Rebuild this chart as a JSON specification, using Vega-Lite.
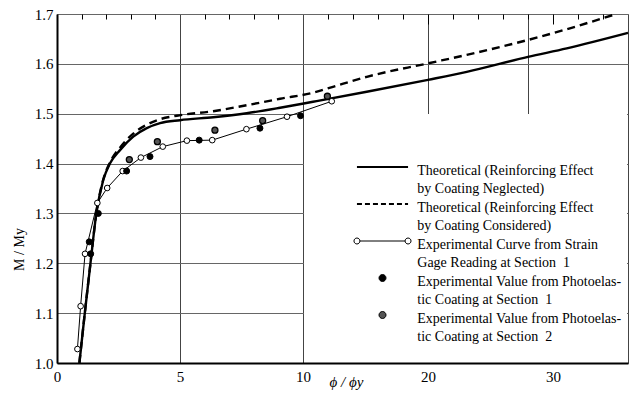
{
  "$schema": "https://vega.github.io/schema/vega-lite/v6.json",
  "width": 571,
  "height": 349,
  "autosize": {"type": "none"},
  "padding": {"left": 57, "top": 14, "right": 2, "bottom": 31},
  "background": "white",
  "config": {"view": {"stroke": "#444", "strokeWidth": 1}, "font": "Liberation Serif"},
  "datasets": {
    "neglected": [
      {"series": "neglected", "phi": 0.91, "m": 1.0},
      {"series": "neglected", "phi": 1.13, "m": 1.1},
      {"series": "neglected", "phi": 1.36, "m": 1.2},
      {"series": "neglected", "phi": 1.6, "m": 1.3},
      {"series": "neglected", "phi": 1.88, "m": 1.367},
      {"series": "neglected", "phi": 2.15, "m": 1.4},
      {"series": "neglected", "phi": 2.56, "m": 1.427},
      {"series": "neglected", "phi": 3.1, "m": 1.454},
      {"series": "neglected", "phi": 3.65, "m": 1.471},
      {"series": "neglected", "phi": 4.19, "m": 1.481},
      {"series": "neglected", "phi": 5.0, "m": 1.487},
      {"series": "neglected", "phi": 6.35, "m": 1.493},
      {"series": "neglected", "phi": 7.71, "m": 1.501},
      {"series": "neglected", "phi": 9.07, "m": 1.512},
      {"series": "neglected", "phi": 10.8, "m": 1.524},
      {"series": "neglected", "phi": 15.1, "m": 1.544},
      {"series": "neglected", "phi": 20, "m": 1.568},
      {"series": "neglected", "phi": 23.1, "m": 1.584},
      {"series": "neglected", "phi": 28, "m": 1.614},
      {"series": "neglected", "phi": 31.1, "m": 1.631},
      {"series": "neglected", "phi": 36, "m": 1.662}
    ],
    "considered": [
      {"series": "considered", "phi": 0.91, "m": 1.0},
      {"series": "considered", "phi": 1.13, "m": 1.1},
      {"series": "considered", "phi": 1.36, "m": 1.2},
      {"series": "considered", "phi": 1.6, "m": 1.3},
      {"series": "considered", "phi": 1.88, "m": 1.368},
      {"series": "considered", "phi": 2.15, "m": 1.402},
      {"series": "considered", "phi": 2.56, "m": 1.432},
      {"series": "considered", "phi": 3.1, "m": 1.46},
      {"series": "considered", "phi": 3.65, "m": 1.478},
      {"series": "considered", "phi": 4.19, "m": 1.489},
      {"series": "considered", "phi": 4.87, "m": 1.496},
      {"series": "considered", "phi": 6.35, "m": 1.505},
      {"series": "considered", "phi": 7.71, "m": 1.517},
      {"series": "considered", "phi": 9.07, "m": 1.53},
      {"series": "considered", "phi": 10.8, "m": 1.542},
      {"series": "considered", "phi": 12.4, "m": 1.554},
      {"series": "considered", "phi": 15.1, "m": 1.574},
      {"series": "considered", "phi": 20, "m": 1.601},
      {"series": "considered", "phi": 23.1, "m": 1.618},
      {"series": "considered", "phi": 28, "m": 1.648},
      {"series": "considered", "phi": 30.9, "m": 1.668},
      {"series": "considered", "phi": 34.8, "m": 1.698}
    ],
    "curve": [
      {"series": "curve", "phi": 0.83, "m": 1.028},
      {"series": "curve", "phi": 0.96, "m": 1.114},
      {"series": "curve", "phi": 1.14, "m": 1.219},
      {"series": "curve", "phi": 1.64, "m": 1.321},
      {"series": "curve", "phi": 2.04, "m": 1.351},
      {"series": "curve", "phi": 2.67, "m": 1.385},
      {"series": "curve", "phi": 3.41, "m": 1.412},
      {"series": "curve", "phi": 4.3, "m": 1.434},
      {"series": "curve", "phi": 5.28, "m": 1.446},
      {"series": "curve", "phi": 6.31, "m": 1.447},
      {"series": "curve", "phi": 7.7, "m": 1.469},
      {"series": "curve", "phi": 9.35, "m": 1.494},
      {"series": "curve", "phi": 12.3, "m": 1.525}
    ],
    "sec1": [
      {"series": "sec1", "phi": 1.31, "m": 1.243},
      {"series": "sec1", "phi": 1.37, "m": 1.219},
      {"series": "sec1", "phi": 1.68, "m": 1.3},
      {"series": "sec1", "phi": 2.83, "m": 1.385},
      {"series": "sec1", "phi": 3.78, "m": 1.414},
      {"series": "sec1", "phi": 5.78, "m": 1.447},
      {"series": "sec1", "phi": 8.25, "m": 1.471},
      {"series": "sec1", "phi": 9.9, "m": 1.496}
    ],
    "sec2": [
      {"series": "sec2", "phi": 2.94, "m": 1.408},
      {"series": "sec2", "phi": 4.08, "m": 1.444},
      {"series": "sec2", "phi": 6.42, "m": 1.467},
      {"series": "sec2", "phi": 8.36, "m": 1.486},
      {"series": "sec2", "phi": 11.95, "m": 1.535}
    ]
  },
  "layer": [
    {
      "data": {"name": "neglected"},
      "mark": {"type": "line", "interpolate": "monotone", "strokeWidth": 2.4},
      "encoding": {
        "x": {
          "field": "phi", "type": "quantitative",
          "scale": {"domain": [0, 10, 36], "range": [0, 246, 571], "nice": false, "zero": false},
          "axis": {
            "values": [0, 5, 10, 20, 30], "ticks": false, "grid": false, "zindex": 1,
            "domainColor": "black", "domainWidth": 2,
            "labelFont": "Liberation Serif", "labelFontSize": 15, "labelColor": "black", "labelPadding": 6,
            "labelFlush": false, "labelOverlap": false,
            "title": "ϕ / ϕy", "titleFont": "Liberation Serif", "titleFontStyle": "italic", "titleFontWeight": "normal",
            "titleFontSize": 15, "titleColor": "black", "titleX": 289, "titleY": 23, "titleBaseline": "alphabetic", "titleAlign": "center"
          }
        },
        "y": {
          "field": "m", "type": "quantitative",
          "scale": {"domain": [1.0, 1.7], "nice": false, "zero": false},
          "axis": {
            "values": [1.0, 1.1, 1.2, 1.3, 1.4, 1.5, 1.6, 1.7], "format": ".1f", "ticks": false,
            "grid": true, "gridColor": "#666", "gridWidth": 1,
            "domainColor": "black", "domainWidth": 2,
            "labelFont": "Liberation Serif", "labelFontSize": 15, "labelColor": "black", "labelPadding": 4,
            "labelFlush": false, "labelOverlap": false,
            "title": "M / My", "titleFont": "Liberation Serif", "titleFontWeight": "normal", "titleFontSize": 14,
            "titleColor": "black", "titleX": -38, "titleY": 235, "titleAngle": -90, "titleBaseline": "middle", "titleAlign": "center"
          }
        },
        "color": {
          "field": "series", "type": "nominal",
          "scale": {"domain": ["spacer", "neglected", "considered", "curve", "sec1", "sec2"], "range": ["transparent", "black", "black", "black", "black", "black"]},
          "legend": {
            "orient": "none", "legendX": 247, "legendY": 100, "direction": "vertical",
            "title": null,
            "padding": 5, "fillColor": "white", "strokeColor": null,
            "symbolSize": 49, "symbolOffset": 66.5, "labelOffset": 27.8, "rowPadding": 0,
            "labelFont": "Liberation Serif", "labelFontSize": 14, "labelColor": "black", "labelLimit": 400, "labelAlign": "left",
            "labelExpr": "datum.label == 'spacer' ? '' : datum.label == 'neglected' ? ['Theoretical (Reinforcing Effect', '\u00a0\u00a0\u00a0\u00a0\u00a0\u00a0\u00a0\u00a0\u00a0\u00a0\u00a0\u00a0\u00a0\u00a0\u00a0\u00a0\u00a0\u00a0\u00a0\u00a0by Coating Neglected)'] : datum.label == 'considered' ? ['Theoretical (Reinforcing Effect', '\u00a0\u00a0\u00a0\u00a0\u00a0\u00a0\u00a0\u00a0\u00a0\u00a0\u00a0\u00a0\u00a0\u00a0\u00a0\u00a0\u00a0\u00a0\u00a0\u00a0by Coating Considered)'] : datum.label == 'curve' ? ['Experimental Curve from Strain', 'Gage Reading at Section\u00a0\u00a01'] : datum.label == 'sec1' ? ['Experimental Value from Photoelas-', 'tic Coating at Section\u00a0\u00a01'] : ['Experimental Value from Photoelas-', 'tic Coating at Section\u00a0\u00a02']",
            "encode": {
              "symbols": {
                "update": {
                  "shape": {"signal": "datum.value == 'spacer' ? 'M-20.5,0L-20.5,9.49' : datum.value == 'neglected' ? 'M-7.3,0H7.3' : datum.value == 'considered' ? 'M-7.3,0H7.3' : datum.value == 'curve' ? 'M-8.15,0A0.85,0.85 0 1,0 -6.45,0A0.85,0.85 0 1,0 -8.15,0ZM-6.45,0H6.45M6.45,0A0.85,0.85 0 1,0 8.15,0A0.85,0.85 0 1,0 6.45,0Z' : datum.value == 'sec1' ? 'M-1,0A1,1 0 1,0 1,0A1,1 0 1,0 -1,0Z' : 'M0,11.5M-1,0A1,1 0 1,0 1,0A1,1 0 1,0 -1,0Z'"},
                  "fill": {"signal": "datum.value == 'curve' ? 'white' : datum.value == 'sec1' ? 'black' : datum.value == 'sec2' ? '#555' : 'transparent'"},
                  "stroke": {"signal": "datum.value == 'spacer' ? 'transparent' : 'black'"},
                  "strokeOpacity": {"signal": "datum.value == 'spacer' ? 0 : 1"},
                  "strokeDash": {"signal": "datum.value == 'considered' ? [5, 3] : []"},
                  "strokeWidth": {"signal": "datum.value == 'neglected' || datum.value == 'considered' ? 2.2 : 1"},
                  "opacity": {"value": 1}
                }
              },
              "labels": {
                "update": {
                  "dy": {"value": 4},
                  "lineHeight": {"value": 18.2}
                }
              }
            }
          }
        }
      }
    },
    {
      "data": {"name": "considered"},
      "mark": {"type": "line", "interpolate": "monotone", "strokeWidth": 2.4, "strokeDash": [8, 5], "color": "black"},
      "encoding": {
        "x": {
          "field": "phi", "type": "quantitative",
          "scale": {"domain": [0, 10, 36], "range": [0, 246, 571], "nice": false, "zero": false},
          "axis": {"values": [20, 30], "ticks": true, "tickSize": -10, "tickColor": "black", "tickWidth": 1, "labels": false, "domain": false, "grid": false, "title": null, "zindex": 1}
        },
        "y": {"field": "m", "type": "quantitative", "scale": {"domain": [1.0, 1.7], "nice": false, "zero": false}, "axis": null}
      }
    },
    {
      "data": {"name": "curve"},
      "mark": {"type": "line", "strokeWidth": 1, "color": "black"},
      "encoding": {
        "x": {
          "field": "phi", "type": "quantitative",
          "scale": {"domain": [0, 10, 36], "range": [0, 246, 571], "nice": false, "zero": false},
          "axis": {"values": [1, 2, 3, 4, 6, 7, 8, 9, 12, 14, 16, 18, 22, 24, 26, 28, 32, 34], "ticks": true, "tickSize": -5, "tickColor": "black", "tickWidth": 1, "labels": false, "domain": false, "grid": false, "title": null, "zindex": 1}
        },
        "y": {"field": "m", "type": "quantitative", "scale": {"domain": [1.0, 1.7], "nice": false, "zero": false}, "axis": null}
      }
    },
    {
      "data": {"name": "curve"},
      "mark": {"type": "point", "filled": true, "fill": "white", "stroke": "black", "strokeWidth": 1, "size": 32, "opacity": 1},
      "encoding": {
        "x": {
          "field": "phi", "type": "quantitative",
          "scale": {"domain": [0, 10, 36], "range": [0, 246, 571], "nice": false, "zero": false},
          "axis": {"orient": "top", "values": [5, 10, 20, 28], "ticks": false, "labels": false, "domain": false, "grid": true, "gridColor": "#444", "gridWidth": 1, "title": null}
        },
        "y": {"field": "m", "type": "quantitative", "scale": {"domain": [1.0, 1.7], "nice": false, "zero": false}, "axis": null}
      }
    },
    {
      "data": {"name": "sec1"},
      "mark": {"type": "point", "filled": true, "fill": "black", "stroke": "black", "strokeWidth": 1, "size": 36, "opacity": 1},
      "encoding": {
        "x": {"field": "phi", "type": "quantitative", "scale": {"domain": [0, 10, 36], "range": [0, 246, 571], "nice": false, "zero": false}, "axis": null},
        "y": {"field": "m", "type": "quantitative", "scale": {"domain": [1.0, 1.7], "nice": false, "zero": false}, "axis": null}
      }
    },
    {
      "data": {"name": "sec2"},
      "mark": {"type": "point", "filled": true, "fill": "#555", "stroke": "black", "strokeWidth": 1.3, "size": 36, "opacity": 1},
      "encoding": {
        "x": {"field": "phi", "type": "quantitative", "scale": {"domain": [0, 10, 36], "range": [0, 246, 571], "nice": false, "zero": false}, "axis": null},
        "y": {"field": "m", "type": "quantitative", "scale": {"domain": [1.0, 1.7], "nice": false, "zero": false}, "axis": null}
      }
    }
  ],
  "resolve": {"axis": {"x": "independent", "y": "independent"}}
}
